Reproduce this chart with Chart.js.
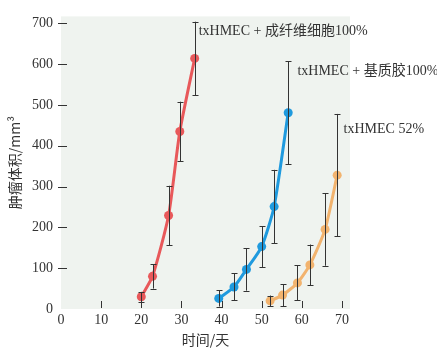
<!DOCTYPE html>
<html>
<head>
<meta charset="utf-8">
<script src="https://cdn.jsdelivr.net/npm/chart.js@4"></script>
<style>
  html, body { margin: 0; padding: 0; background: #fff; }
  #wrap { width: 437px; height: 348px; }
</style>
</head>
<body>
<div id="wrap"><canvas id="tumorChart"></canvas></div>
<script>
// Data
const fibroDays = [20, 22.8, 26.8, 29.6, 33.3];
const fibroVol = [30, 80, 229, 435, 614];
const fibroErr = [12, 30, 73, 73, 90];

const matrigelDays = [39.3, 43.1, 46.2, 50, 53.1, 56.6];
const matrigelVol = [26, 54, 97, 153, 251, 481];
const matrigelErr = [20, 33, 52, 50, 90, 126];

const plainDays = [52.1, 55.2, 58.9, 62, 65.8, 68.8];
const plainVol = [20, 34, 64, 108, 195, 328];
const plainErr = [13, 27, 43, 50, 89, 150];

const seriesLabels = ['txHMEC + 成纤维细胞100%', 'txHMEC + 基质胶100%', 'txHMEC 52%'];
// where each series label sits, in data units
const labelX = [34.3, 58.9, 70.4];
const labelY = [681, 582, 441];

const xTicks = [0, 10, 20, 30, 40, 50, 60, 70];
const yTicks = [0, 100, 200, 300, 400, 500, 600, 700];

const colors = ['#e8585a', '#1f9ade', '#f2b36e'];
const errors = [fibroErr, matrigelErr, plainErr];

const serif = "'Liberation Serif', 'Noto Sans CJK SC', serif";

function toPoints(xs, ys) {
  return xs.map((x, i) => ({ x: x, y: ys[i] }));
}

function makeSet(label, xs, ys, color) {
  return {
    label: label,
    data: toPoints(xs, ys),
    borderColor: color,
    backgroundColor: color,
    borderWidth: 3,
    pointRadius: 4.5,
    pointBorderWidth: 0,
    tension: 0.2
  };
}

// light panel behind the plot
const panelPlugin = {
  id: 'panel',
  beforeDraw(chart) {
    const { ctx, chartArea: a } = chart;
    ctx.save();
    ctx.fillStyle = '#eff3ef';
    ctx.fillRect(a.left, a.top, a.right - a.left, a.bottom - a.top);
    ctx.restore();
  }
};

// tick marks, error bars and series labels
const extrasPlugin = {
  id: 'extras',
  afterDatasetsDraw(chart) {
    const { ctx, scales: { x, y } } = chart;
    ctx.save();
    ctx.strokeStyle = '#333';
    ctx.lineWidth = 1;

    yTicks.slice(1).forEach(v => {
      const py = Math.round(y.getPixelForValue(v)) + 0.5;
      ctx.beginPath();
      ctx.moveTo(x.left - 3, py);
      ctx.lineTo(x.left + 6, py);
      ctx.stroke();
    });
    xTicks.slice(1).forEach(v => {
      const px = Math.round(x.getPixelForValue(v)) + 0.5;
      ctx.beginPath();
      ctx.moveTo(px, y.bottom - 8);
      ctx.lineTo(px, y.bottom - 1);
      ctx.stroke();
    });

    chart.data.datasets.forEach((ds, i) => {
      ds.data.forEach((p, j) => {
        const e = errors[i][j];
        const px = Math.round(x.getPixelForValue(p.x)) + 0.5;
        const top = y.getPixelForValue(p.y + e);
        const bot = y.getPixelForValue(Math.max(p.y - e, 0));
        ctx.beginPath();
        ctx.moveTo(px, top);
        ctx.lineTo(px, bot);
        ctx.moveTo(px - 3, Math.round(top) + 0.5);
        ctx.lineTo(px + 3, Math.round(top) + 0.5);
        ctx.moveTo(px - 3, Math.round(bot) + 0.5);
        ctx.lineTo(px + 3, Math.round(bot) + 0.5);
        ctx.stroke();
      });
    });

    ctx.fillStyle = '#333';
    ctx.font = "14px " + serif;
    ctx.textBaseline = 'middle';
    seriesLabels.forEach((t, i) => {
      ctx.fillText(t, x.getPixelForValue(labelX[i]), y.getPixelForValue(labelY[i]));
    });
    ctx.restore();
  }
};

const ctx = document.getElementById('tumorChart').getContext('2d');
new Chart(ctx, {
  type: 'line',
  data: {
    datasets: [
      makeSet(seriesLabels[0], fibroDays, fibroVol, colors[0]),
      makeSet(seriesLabels[1], matrigelDays, matrigelVol, colors[1]),
      makeSet(seriesLabels[2], plainDays, plainVol, colors[2])
    ]
  },
  options: {
    responsive: true,
    maintainAspectRatio: false,
    animation: false,
    layout: {
      padding: { top: 12, right: 87, left: 0, bottom: 0 }
    },
    plugins: {
      legend: { display: false },
      tooltip: { enabled: false }
    },
    scales: {
      x: {
        type: 'linear',
        min: 0,
        max: 72,
        afterBuildTicks: scale => { scale.ticks = xTicks.map(v => ({ value: v })); },
        afterFit: scale => { scale.height = 39; },
        grid: { display: false, drawTicks: false },
        border: { display: false },
        ticks: {
          color: '#333',
          padding: 3,
          maxRotation: 0,
          font: { family: serif, size: 14 }
        },
        title: {
          display: true,
          text: '时间/天',
          color: '#333',
          padding: { top: 0, bottom: 0 },
          font: { family: "'Noto Sans CJK SC', sans-serif", size: 14 }
        }
      },
      y: {
        min: 0,
        max: 717,
        afterBuildTicks: scale => { scale.ticks = yTicks.map(v => ({ value: v })); },
        afterFit: scale => { scale.width = 61; },
        grid: { display: false, drawTicks: false },
        border: { display: false },
        ticks: {
          color: '#333',
          padding: 8,
          font: { family: serif, size: 14 }
        },
        title: {
          display: true,
          text: '肿瘤体积/mm³',
          color: '#333',
          padding: { top: 6, bottom: 0 },
          font: { family: "'Noto Sans CJK SC', sans-serif", size: 14 }
        }
      }
    }
  },
  plugins: [panelPlugin, extrasPlugin]
});
</script>
</body>
</html>
